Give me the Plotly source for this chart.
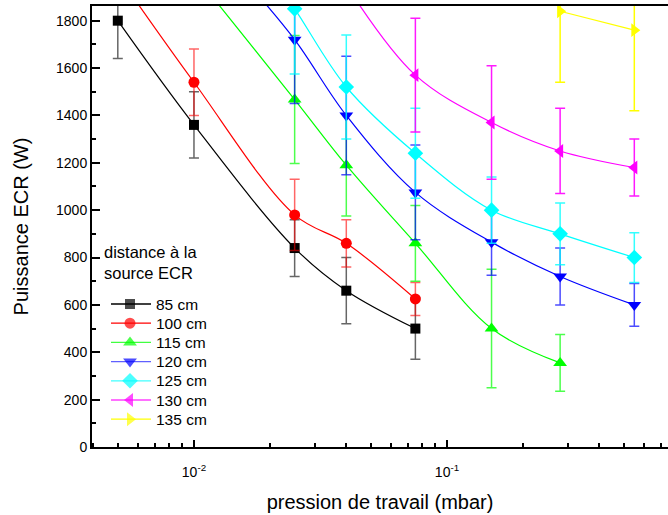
import plotly.graph_objects as go

# ---- data ----
labels = ["85 cm", "100 cm", "115 cm", "120 cm", "125 cm", "130 cm", "135 cm"]

x_85 = [0.005, 0.01, 0.025, 0.04, 0.075]
y_85 = [1800, 1360, 840, 660, 500]
e_85 = [160, 140, 120, 140, 130]

x_100 = [0.01, 0.025, 0.04, 0.075]
y_100 = [1540, 980, 860, 625]
e_100 = [140, 150, 100, 70]

x_115 = [0.025, 0.04, 0.075, 0.15, 0.28]
y_115 = [1467, 1190, 860, 500, 355]
e_115 = [270, 215, 160, 250, 120]

x_120 = [0.025, 0.04, 0.075, 0.15, 0.28, 0.55]
y_120 = [1720, 1400, 1075, 865, 720, 600]
e_120 = [270, 250, 200, 140, 120, 90]

x_125 = [0.025, 0.04, 0.075, 0.15, 0.28, 0.55]
y_125 = [1850, 1520, 1240, 1000, 900, 800]
e_125 = [275, 220, 190, 140, 130, 105]

x_130 = [0.075, 0.15, 0.28, 0.55]
y_130 = [1570, 1370, 1250, 1180]
e_130 = [240, 240, 180, 120]

x_135 = [0.28, 0.55]
y_135 = [1840, 1760]
e_135 = [300, 340]

# where each fitted curve leaves the frame (above the top edge)
curve_start_x = [None, 0.00533, 0.01086, 0.01656, 0.0213, 0.040, None]
curve_start_y = [None, 1950, 1950, 1950, 1950, 1950, None]

colors = ["#000000", "#FF0000", "#00FF00", "#0000FF", "#00FFFF", "#FF00FF", "#FFFF00"]
err_colors = ["rgba(0,0,0,0.6)", "rgba(255,0,0,0.6)", "rgba(0,255,0,0.7)", "rgba(0,0,255,0.7)",
              "rgba(0,255,255,0.8)", "rgba(255,0,255,0.9)", "rgba(255,255,0,1)"]
legend_line_colors = ["#000000", "#FF0000", "#40FF40", "#6060FF", "#40FFFF", "#FF40FF", "#FFFF00"]
symbols = ["square", "circle", "triangle-up", "triangle-down", "diamond", "triangle-left", "triangle-right"]
sizes = [10, 11, 12, 12, 12, 12, 12]

series = [(x_85, y_85, e_85), (x_100, y_100, e_100), (x_115, y_115, e_115),
          (x_120, y_120, e_120), (x_125, y_125, e_125), (x_130, y_130, e_130),
          (x_135, y_135, e_135)]

fig = go.Figure()
for i, (xs, ys, es) in enumerate(series):
    if curve_start_x[i] is not None:
        xx = [curve_start_x[i]] + list(xs)
        yy = [curve_start_y[i]] + list(ys)
        ee = [None] + list(es)
    else:
        xx, yy, ee = list(xs), list(ys), list(es)
    fig.add_trace(go.Scatter(
        x=xx, y=yy, mode="lines+markers", name=labels[i], showlegend=False,
        line=dict(color=colors[i], width=1.2, shape="spline", smoothing=1.0),
        marker=dict(symbol=symbols[i], size=sizes[i], color=colors[i], line=dict(width=0)),
        error_y=dict(type="data", array=ee, visible=True, color=err_colors[i],
                     thickness=1.5, width=5),
        cliponaxis=True,
    ))

# ---- legend drawn on a pixel-scaled overlay axis ----
L_LEFT, L_TOP = 92, 6
L_RIGHT, L_BOTTOM = 668, 447
leg_line_x0, leg_marker_x, leg_line_x1, leg_text_x = 111, 130, 151, 154
leg_first_y, leg_step = 304, 19.2
for i in range(len(labels)):
    yc = leg_first_y + i * leg_step
    fig.add_trace(go.Scatter(
        x=[leg_line_x0, leg_marker_x, leg_line_x1], y=[yc, yc, yc],
        xaxis="x2", yaxis="y2", mode="lines+markers", showlegend=False, hoverinfo="skip",
        line=dict(color=legend_line_colors[i], width=1.3),
        marker=dict(symbol=symbols[i], size=[0, sizes[i], 0], color=colors[i], line=dict(width=0)),
        cliponaxis=False,
    ))
    fig.add_annotation(x=leg_text_x, y=yc, xref="x2", yref="y2", text=labels[i],
                       showarrow=False, xanchor="left", yanchor="middle",
                       font=dict(size=15.5, color="black"))
fig.add_annotation(x=102, y=262, xref="x2", yref="y2", text="distance à la<br>source ECR",
                   showarrow=False, xanchor="left", yanchor="middle", align="left",
                   font=dict(size=16.5, color="black"))

minor_vals = [0.004, 0.005, 0.006, 0.007, 0.008, 0.009,
              0.02, 0.03, 0.04, 0.05, 0.06, 0.07, 0.08, 0.09,
              0.2, 0.3, 0.4, 0.5, 0.6, 0.7]

fig.update_layout(
    width=668, height=515,
    margin=dict(l=L_LEFT, r=668 - L_RIGHT, t=L_TOP, b=515 - L_BOTTOM, autoexpand=False),
    paper_bgcolor="white", plot_bgcolor="white",
    font=dict(family="Liberation Sans, Arial, sans-serif", size=14, color="black"),
    showlegend=False,
    xaxis=dict(
        type="log", range=[-2.403, -0.1265], automargin=False,
        showgrid=False, zeroline=False,
        showline=True, linecolor="black", linewidth=2, mirror=True,
        ticks="inside", ticklen=7, tickwidth=1.5, tickcolor="black",
        tickvals=[0.01, 0.1], ticktext=["10<sup>-2</sup>", "10<sup>-1</sup>"],
        tickfont=dict(size=14), ticklabelstandoff=11,
        minor=dict(tickvals=minor_vals, ticks="inside", ticklen=4, tickwidth=1.5, tickcolor="black"),
        title=dict(text="pression de travail (mbar)", font=dict(size=20), standoff=16),
    ),
    yaxis=dict(
        range=[0, 1862], automargin=False,
        showgrid=False, zeroline=False,
        showline=True, linecolor="black", linewidth=2,
        ticks="inside", ticklen=8, tickwidth=1.5, tickcolor="black",
        tickvals=[0, 200, 400, 600, 800, 1000, 1200, 1400, 1600, 1800],
        tickfont=dict(size=14),
        minor=dict(dtick=100, ticks="inside", ticklen=4, tickwidth=1.5, tickcolor="black"),
        title=dict(text="Puissance ECR (W)", font=dict(size=20), standoff=22),
    ),
    xaxis2=dict(overlaying="x", anchor="y2", range=[L_LEFT, L_RIGHT], visible=False,
                fixedrange=True),
    yaxis2=dict(overlaying="y", anchor="x2", range=[L_BOTTOM, L_TOP], visible=False,
                fixedrange=True),
)

fig.write_html("out.html", config={"displayModeBar": False},
               post_script="document.body.style.margin='0';")
